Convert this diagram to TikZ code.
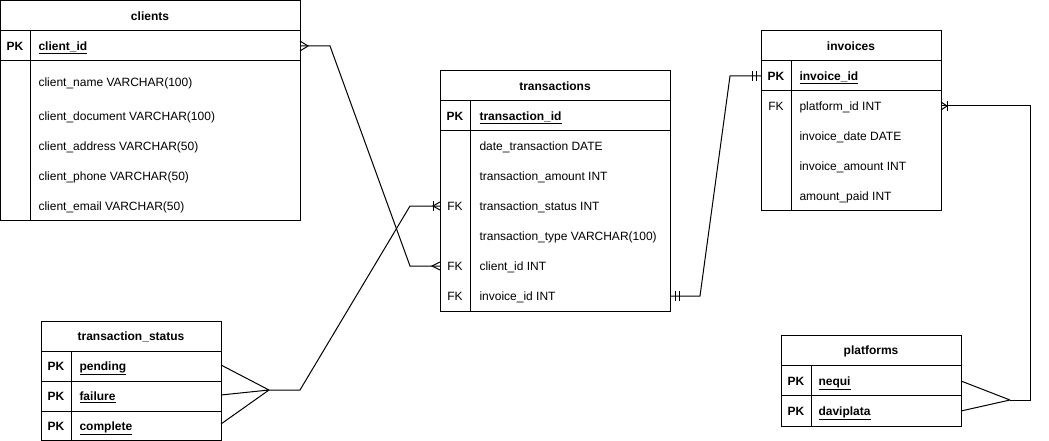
\documentclass[tikz,border=0pt]{standalone}
\usepackage{fontspec}
\setmainfont{Liberation Sans}
\begin{document}
\begin{tikzpicture}[x=1pt,y=-1pt,line width=1pt,
  tbl/.style={draw,line width=1pt,anchor=north west,inner sep=0pt,outer sep=0pt},
  txt/.style={anchor=west,inner sep=0pt,font=\fontsize{12}{14}\selectfont,text height=8.6pt,text depth=0pt},
  keyc/.style={anchor=center,inner sep=0pt,font=\fontsize{12}{14}\selectfont,text height=8.6pt,text depth=0pt},
  ttl/.style={anchor=center,inner sep=0pt,font=\bfseries\fontsize{12}{14}\selectfont,text height=8.6pt,text depth=0pt},
  rel/.style={line width=1pt,line join=miter}]
\useasboundingbox (0,0) rectangle (1049,441);

% ---------------- clients
\node[tbl,minimum width=300pt,minimum height=219pt] (clients) at (0,1) {};
\draw (0,31) -- (300,31) (0,61) -- (300,61) (30,31) -- (30,220);
\node[ttl] (ctitle) at (150,16) {clients};
\node[keyc,font=\bfseries\fontsize{12}{14}\selectfont] (cpk) at (15,46) {PK};
\node[txt,font=\bfseries\fontsize{12}{14}\selectfont] (cid) at (38,46) {\underline{client\_id}};
\node[txt] (cname) at (38,82) {client\_name VARCHAR(100)};
\node[txt] (cdoc) at (38,116) {client\_document VARCHAR(100)};
\node[txt] (caddr) at (38,146) {client\_address VARCHAR(50)};
\node[txt] (cphone) at (38,176) {client\_phone VARCHAR(50)};
\node[txt] (cmail) at (38,206) {client\_email VARCHAR(50)};

% ---------------- transactions
\node[tbl,minimum width=230pt,minimum height=240pt] (trans) at (440,71) {};
\draw (440,101) -- (670,101) (440,131) -- (670,131) (470,101) -- (470,311);
\node[ttl] (ttitle) at (555,86) {transactions};
\node[keyc,font=\bfseries\fontsize{12}{14}\selectfont] (tpk) at (455,116) {PK};
\node[txt,font=\bfseries\fontsize{12}{14}\selectfont] (tid) at (479,116) {\underline{transaction\_id}};
\node[txt] (tdate) at (479,146) {date\_transaction DATE};
\node[txt] (tamount) at (479,176) {transaction\_amount INT};
\node[keyc] (tfk1) at (455,206) {FK};
\node[txt] (tstatus) at (479,206) {transaction\_status INT};
\node[txt] (ttype) at (479,236) {transaction\_type VARCHAR(100)};
\node[keyc] (tfk2) at (455,266) {FK};
\node[txt] (tcid) at (479,266) {client\_id INT};
\node[keyc] (tfk3) at (455,296) {FK};
\node[txt] (tinv) at (479,296) {invoice\_id INT};

% ---------------- invoices
\node[tbl,minimum width=180pt,minimum height=179pt] (inv) at (761,31) {};
\draw (761,61) -- (941,61) (761,91) -- (941,91) (791,61) -- (791,210);
\node[ttl] (ititle) at (851,46) {invoices};
\node[keyc,font=\bfseries\fontsize{12}{14}\selectfont] (ipk) at (776,76) {PK};
\node[txt,font=\bfseries\fontsize{12}{14}\selectfont] (iid) at (799,76) {\underline{invoice\_id}};
\node[keyc] (ifk) at (776,106) {FK};
\node[txt] (iplat) at (799,106) {platform\_id INT};
\node[txt] (idate) at (799,136) {invoice\_date DATE};
\node[txt] (iamount) at (799,166) {invoice\_amount INT};
\node[txt] (ipaid) at (799,196) {amount\_paid INT};

% ---------------- transaction_status
\node[tbl,minimum width=180pt,minimum height=119pt] (ts) at (41,321) {};
\draw (41,351) -- (221,351) (41,381) -- (221,381) (41,411) -- (221,411) (71,351) -- (71,440);
\node[ttl] (tstitle) at (131,336) {transaction\_status};
\node[keyc,font=\bfseries\fontsize{12}{14}\selectfont] (tspk1) at (56,366) {PK};
\node[txt,font=\bfseries\fontsize{12}{14}\selectfont] (tspend) at (79,366) {\underline{pending}};
\node[keyc,font=\bfseries\fontsize{12}{14}\selectfont] (tspk2) at (56,396) {PK};
\node[txt,font=\bfseries\fontsize{12}{14}\selectfont] (tsfail) at (79,396) {\underline{failure}};
\node[keyc,font=\bfseries\fontsize{12}{14}\selectfont] (tspk3) at (56,426) {PK};
\node[txt,font=\bfseries\fontsize{12}{14}\selectfont] (tscomp) at (79,426) {\underline{complete}};

% ---------------- platforms
\node[tbl,minimum width=180pt,minimum height=91pt] (plat) at (781,335) {};
\draw (781,365) -- (961,365) (781,395) -- (961,395) (811,365) -- (811,426);
\node[ttl] (ptitle) at (871,350) {platforms};
\node[keyc,font=\bfseries\fontsize{12}{14}\selectfont] (ppk1) at (796,381) {PK};
\node[txt,font=\bfseries\fontsize{12}{14}\selectfont] (pneq) at (818,381) {\underline{nequi}};
\node[keyc,font=\bfseries\fontsize{12}{14}\selectfont] (ppk2) at (796,411) {PK};
\node[txt,font=\bfseries\fontsize{12}{14}\selectfont] (pdav) at (818,411) {\underline{daviplata}};

% ---------------- connectors
% clients.client_id  <->  transactions.client_id
\coordinate (c1s) at (clients.east |- cid);
\coordinate (c1e) at (trans.west |- tcid);
\draw[rel] (c1s) -- ++(30,0) -- (410,266) -- (c1e);
\draw[rel] (300,41) -- (308,46) -- (300,51);
\draw[rel] (c1e) ++(0,-4) -- (432,266) -- (440,270);

% transaction_status -> transactions.transaction_status
\coordinate (tsapex) at (269,390);
\coordinate (c2e) at (trans.west |- tstatus);
\draw[rel] (221,365) -- (tsapex) (221,395) -- (tsapex) (221,424) -- (tsapex);
\draw[rel] (tsapex) -- (300,390) -- (410,206) -- (c2e);
\draw[rel] (c2e) ++(0,-4) -- (433,206) -- (440,210);
\draw[rel] (433,201) -- (433,211);

% transactions.invoice_id -> invoices.invoice_id
\coordinate (c3s) at (trans.east |- tinv);
\coordinate (c3e) at (inv.west |- iid);
\draw[rel] (c3s) -- (700,296) -- (730,76) -- (c3e);
\draw[rel] (675,291) -- (675,301) (679,291) -- (679,301);
\draw[rel] (752,71) -- (752,81) (756,71) -- (756,81);

% platforms -> invoices.platform_id
\coordinate (papex) at (1010,400);
\coordinate (c4e) at (inv.east |- iplat);
\draw[rel] (961,381) -- (papex) (961,411) -- (papex);
\draw[rel] (papex) -- (1030,400) -- (1030,106) -- (c4e);
\draw[rel] (c4e) ++(0,-4) -- (947,106) -- (941,110);
\draw[rel] (947,101) -- (947,111);
\end{tikzpicture}
\end{document}
